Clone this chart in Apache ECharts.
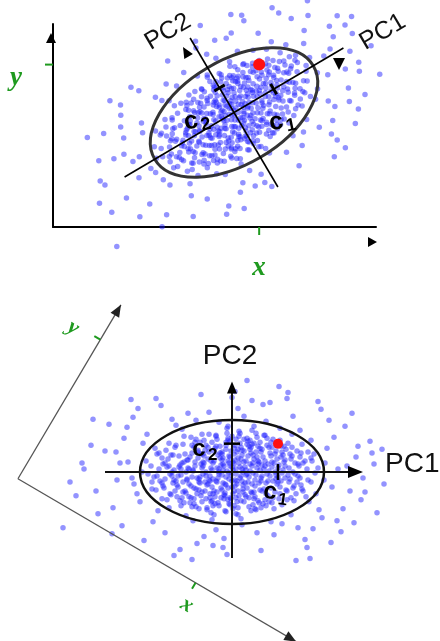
<!DOCTYPE html>
<html><head><meta charset="utf-8">
<script src="https://cdn.jsdelivr.net/npm/echarts@6/dist/echarts.min.js"></script>
<style>html,body{margin:0;padding:0;background:#fff}#c{width:440px;height:641px}</style>
</head><body><div id="c"></div>
<script>
// Principal-component scores of the sample cloud (PC1, PC2)
const scores = [
[0.3,1.2],[-2.1,0.4],[3.4,-1.1],[-0.8,-2.3],[1.7,2.6],[-4.2,1.5],[5.1,0.2],[-1.4,-0.6],[2.6,-2.9],[-3.3,-1.8],
[0.9,-0.4],[-5.6,-0.9],[4.3,1.8],[-0.2,3.1],[1.1,-1.7],[-2.7,2.2],[6.2,-1.4],[-1.9,-3.4],[3.0,0.7],[-6.3,0.6],
[-0.5,0.1],[2.2,1.3],[-3.8,-2.7],[4.8,-2.2],[0.6,-3.6],[-1.2,1.9],[7.1,0.9],[-4.9,2.8],[1.5,3.4],[-2.4,-1.2],
[3.7,2.5],[-0.9,-1.1],[5.6,-0.3],[-6.8,-1.6],[0.2,2.4],[2.9,-0.6],[-3.1,0.8],[1.3,0.5],[-5.2,-2.9],[4.0,-3.1],
[-1.6,3.6],[6.5,2.1],[-0.4,-2.8],[2.0,-2.1],[-2.9,-0.2],[0.7,0.9],[-7.3,0.3],[3.3,3.7],[-4.5,-0.7],[1.9,-3.9],
[-1.1,0.7],[4.6,0.4],[-3.6,3.3],[0.0,-1.5],[5.9,-2.6],[-2.2,-2.6],[2.4,2.0],[-5.9,1.7],[1.0,-0.9],[-0.6,2.7],
[3.9,-1.6],[-4.0,-3.5],[7.6,-0.8],[-1.8,1.1],[0.4,-4.2],[2.7,1.0],[-6.0,-0.4],[4.4,2.9],[-2.6,0.0],[1.6,1.6],
[-3.4,2.0],[5.3,1.2],[-0.1,-0.3],[2.1,-3.3],[-5.0,0.9],[0.8,3.9],[3.5,-0.2],[-1.5,-2.0],[6.7,0.6],[-4.7,-1.9],
[0.5,2.0],[-2.0,3.0],[4.1,-0.9],[-3.0,-3.0],[1.4,-2.5],[-6.6,2.2],[2.8,3.0],[-0.7,-3.9],[5.5,-1.9],[-1.3,0.3],
[3.1,1.5],[-4.4,1.2],[0.1,-2.2],[6.0,1.6],[-2.3,-0.8],[1.8,0.1],[-5.5,-1.3],[4.7,-2.7],[-0.3,1.6],[2.3,-1.4],
[-3.9,0.2],[7.9,1.4],[-1.0,-1.8],[2.5,3.5],[-6.1,-2.3],[0.9,1.3],[4.2,0.9],[-2.8,1.6],[1.2,-3.0],[-4.8,3.6],
[5.8,-0.7],[-0.8,0.6],[3.6,-2.4],[-3.5,-2.2],[0.3,-0.8],[-7.8,-0.5],[2.0,2.8],[-1.7,2.4],[6.4,-2.2],[-2.5,-3.8],
[1.6,-1.0],[-5.3,0.5],[4.9,1.5],[-0.4,3.4],[2.9,-3.6],[-3.7,1.0],[0.6,-1.9],[-1.1,-2.6],[5.2,2.6],[-6.4,1.3],
[3.2,0.3],[-2.0,-1.5],[1.0,2.2],[-4.3,-2.5],[7.0,-1.7],[-0.9,1.4],[2.4,-0.3],[-5.7,2.5],[4.5,-1.2],[0.0,0.5],
[-3.2,-0.5],[1.8,3.2],[-1.4,-3.1],[6.1,0.0],[-2.6,2.7],[3.8,1.9],[-7.0,-1.1],[0.4,-2.6],[2.6,0.8],[-4.1,-1.4],
[5.4,2.3],[-0.6,-1.3],[3.0,-1.9],[-1.9,0.9],[8.3,-0.1],[-3.8,2.5],[1.1,0.0],[-5.1,-3.4],[4.1,3.3],[-0.2,-3.3],
[2.2,-2.7],[-2.4,1.3],[6.9,1.9],[-4.6,0.0],[0.8,2.9],[-1.6,-0.9],[3.4,-3.4],[-6.5,-2.8],[1.4,1.1],[-3.0,3.8],
[4.6,-0.5],[-0.3,-0.1],[2.1,1.7],[-5.8,0.2],[0.2,-3.4],[3.7,0.1],[-2.2,-2.2],[7.4,-2.5],[-1.2,2.6],[5.0,-3.3],
[-4.0,1.9],[1.7,-0.5],[-0.5,3.9],[2.8,2.4],[-6.9,0.8],[0.5,-1.2],[4.3,-2.0],[-3.3,-1.0],[1.2,2.1],[-1.8,-4.3],
[6.3,0.9],[-2.9,0.6],[3.5,2.7],[-0.7,-2.1],[-5.4,-0.4],[2.3,-3.7],[0.1,1.0],[-4.2,-3.1],[5.7,-1.0],[-1.5,3.3],
[1.3,-2.3],[-3.6,-1.7],[4.0,1.0],[-0.9,0.2],[2.7,-1.1],[-7.5,1.8],[0.7,3.6],[-2.1,-3.0],[6.6,-0.4],[-1.0,1.8],
[3.3,-2.8],[-4.9,-1.0],[1.9,2.5],[-0.1,-2.7],[5.1,1.7],[-2.7,-1.9],[0.4,0.3],[-6.2,-0.2],[4.4,-0.7],[-3.4,1.4],
[9.5,2.4],[-9.8,-1.2],[8.7,-3.8],[-8.9,2.9],[10.6,0.3],[-10.4,1.0],[1.2,5.6],[-1.6,-5.8],[3.4,5.1],[-3.9,-4.9],
[11.8,-1.9],[-11.5,-0.8],[6.8,4.2],[-7.4,-3.9],[2.5,-6.1],[-2.3,6.0],[9.0,-4.6],[-8.5,3.8],[12.4,1.5],[-12.7,2.1],
[5.0,-5.2],[-5.6,4.7],[0.6,6.4],[-0.8,-6.7],[13.1,-0.6],[-13.6,-1.9],[7.9,3.2],[-9.2,-3.0],[4.2,-6.3],[-4.4,5.9],
[10.2,3.5],[-10.8,3.4],[8.1,-5.7],[-7.9,-5.0],[2.0,7.2],[-1.9,-7.4],[14.2,0.8],[-14.8,0.3],[6.1,5.6],[-6.7,-6.1],
[11.1,-3.7],[-11.9,-3.6],[3.8,7.0],[-3.5,-7.2],[9.7,5.2],[-9.9,5.5],[12.9,-2.8],[-15.6,-2.4],[7.3,-6.8],[-7.1,6.7],
[0.3,8.1],[-0.5,-8.3],[5.5,7.4],[-5.2,-7.8],[13.8,3.1],[-12.3,4.8],[10.9,-6.0],[-11.0,-5.4],[8.6,7.1],[-8.8,-6.9],
[15.2,-1.2],[-16.9,-5.6],[4.7,8.6],[-4.0,-8.8],[1.5,9.2],[7.8,-8.7],[-10.1,7.3],[12.0,5.9],[-13.4,-4.2],[14.5,-4.1],
[9.3,0.9],[-9.0,0.0],[8.2,1.8],[-8.0,-1.7],[10.0,-1.5],[-10.0,-0.6],[7.7,-3.0],[-7.7,2.4],[3.9,-5.0],[-3.6,5.2],
[1.0,-5.3],[-1.3,5.0],[6.0,3.8],[-6.3,-3.6],[2.2,4.6],[-2.0,-4.8],[8.4,-2.2],[-8.6,1.1],[5.9,-4.3],[-5.0,4.3],
[11.5,0.6],[-11.2,0.9],[0.9,-4.7],[-0.4,4.6],[4.8,4.4],[-4.6,-4.4],[9.2,-0.8],[-9.5,-2.2],[7.0,2.8],[-7.0,-2.7],
[6.6,-5.6],[-6.0,5.3],[12.6,2.6],[-14.1,2.7],[3.1,6.8],[-2.8,-6.5],[10.5,-4.9],[-10.5,4.5],[0.0,7.5],[-0.9,-7.6],
[13.3,-2.0],[-15.0,0.9],[11.3,4.6],[-12.0,-6.2],[5.6,8.0],[-5.8,-8.4],[8.9,6.3],[-9.4,6.4],[14.0,1.9],[-16.2,-1.0],
[2.9,-7.9],[-3.1,7.8],[7.5,-7.6],[-7.6,7.4],[9.9,-7.1],[6.4,-8.9],[-11.6,2.0],[12.2,-5.1],[-13.9,5.3],[15.0,2.3],
[0.8,0.5],[-0.6,-0.5],[1.5,-0.2],[-1.3,0.0],[0.2,1.8],[-0.4,-1.6],[2.0,0.6],[-2.2,-0.4],[1.1,-1.3],[-1.0,1.2],
[3.0,-0.4],[-3.0,0.4],[0.6,2.3],[-0.7,-2.4],[2.5,1.5],[-2.5,-1.3],[4.0,0.5],[-4.0,-0.5],[1.9,-2.0],[-1.8,2.1],
[3.3,1.1],[-3.2,-1.1],[0.0,-0.9],[-0.3,0.9],[4.9,-0.9],[-4.8,1.0],[2.2,2.9],[-2.0,-2.9],[5.3,0.6],[-5.1,-0.3],
[0.4,-0.2],[-0.2,0.6],[1.2,1.0],[-1.5,-1.0],[2.8,0.2],[-2.9,1.0],[0.9,-2.9],[-0.6,3.0],[3.6,-0.9],[-3.7,0.6],
[1.5,2.8],[-1.7,-2.5],[4.5,1.3],[-4.3,-1.2],[2.3,-2.5],[-2.4,2.5],[5.7,0.4],[-5.8,-0.8],[0.2,-1.9],[-0.1,2.1],
[3.9,3.0],[-3.8,-3.2],[6.8,-0.6],[-6.7,0.9],[1.7,-3.5],[-1.6,3.7],[4.8,-1.5],[-4.7,1.8],[2.6,1.1],[-2.7,-1.0],
[0.7,4.1],[-0.6,-4.0],[5.6,2.9],[-5.5,-2.5],[3.1,-3.2],[-3.2,3.0],[7.3,1.1],[-7.2,-0.9],[1.8,0.8],[-1.9,-0.7],
[4.1,-2.6],[-4.0,2.7],[0.1,0.2],[2.4,3.9],[-2.5,-3.6],[6.2,-2.9],[-6.3,2.9],[1.3,-1.1],[-1.2,1.4],[3.6,0.8],
[-3.5,-0.6],[5.0,-0.1],[-5.1,0.3],[0.5,-3.0],[-0.4,3.2],[2.9,2.0],[-3.0,-2.0],[7.9,-1.0],[-8.1,0.6],[1.0,1.7],
[-1.1,-1.6],[4.4,2.1],[-4.6,-2.1],[2.0,-1.2],[-2.1,1.1],[6.0,2.5],[-6.2,-2.2],[0.6,1.4],[-0.7,-1.2],[3.2,-1.7],
[-3.1,1.8],[5.4,-1.8],[-5.3,1.6],[1.6,3.1],[-1.7,-3.2],[8.6,0.4],[-8.4,-0.2],[2.1,-0.1],[-2.0,0.2],[4.7,0.7],
[-4.5,-0.8],[0.3,2.7],[-0.2,-2.6],[3.5,3.4],[-3.6,-3.5],[6.9,-1.3],[-7.0,1.4],[1.1,-2.0],[-1.0,2.0],[2.7,-3.1],
[-2.8,3.2],[5.2,1.0],[-5.4,-1.5],[0.8,-0.6],[-0.9,0.8],[4.2,-3.7],[-4.1,3.5],[7.6,2.0],[-7.6,-1.8],[1.4,0.2],
[-1.3,-0.2],[3.0,2.3],[-3.1,-2.4],[5.9,1.3],[-5.9,-1.1],[0.0,3.6],[0.1,-3.7],[2.2,-2.0],[-2.3,2.0],[4.3,0.0],
[-4.4,0.4],[6.5,-1.0],[-6.5,0.5],[1.9,1.9],[-1.8,-1.9],[3.8,-0.4],[-3.9,0.1],[0.5,-0.9],[-0.4,1.1],[2.5,0.4],
[-2.6,-0.4],[5.0,2.0],[-4.9,-2.0],[1.2,3.3],[-1.3,-3.4],[3.4,-2.2],[-3.4,2.2],[6.3,-0.2],[-6.0,0.0],[0.9,2.5],
[-0.8,-2.7],[2.6,2.6],[-2.6,-2.7],[4.6,-1.0],[-4.5,1.2],[7.1,-1.9],[-7.3,1.9],[1.5,-1.6],[-1.4,1.7],[3.9,1.6],
[-3.8,-1.6],[0.2,0.8],[-0.3,-0.7],[5.5,-2.8],[-5.6,2.7],[2.0,4.2],[-2.1,-4.1],[8.0,1.1],[-8.0,-1.0],[1.7,-2.6],
[-1.6,2.6],[4.0,2.5],[-4.1,-2.6],[2.9,-0.9],[-2.8,0.9],[6.6,0.8],[-6.7,-0.7],[0.6,-4.3],[-0.5,4.4],[3.3,0.6],
[-3.3,-0.7],[1.0,0.3],[-1.0,-0.3],[5.8,1.8],[-5.7,-1.9],[2.4,-3.8],[-2.3,3.8],[4.8,3.2],[-4.8,-3.1],[0.3,-1.4],
[-0.2,1.5],[3.7,-3.0],[-3.7,3.0],[6.1,-1.6],[-6.1,1.7],[1.8,2.3],[-1.9,-2.2],[4.4,-0.3],[-4.3,0.3],[2.1,0.9],
[-2.2,-0.9],[7.5,0.3],[-7.5,-0.4],[0.7,-2.4],[-0.6,2.3],[3.2,3.7],[-3.3,-3.7],[5.3,-0.6],[-5.2,0.7],[1.4,-0.3],
[-1.5,0.4],[2.8,-1.8],[-2.9,1.8],[4.9,2.6],[-5.0,-2.6],[0.4,3.3],[-0.3,-3.2],[6.8,1.5],[-6.9,-1.4],[2.3,-0.8]
];
const highlight = [4.6, 2.85];        // highlighted sample, PC scores (c1, c2)
const cloudMean = [18.1, 11.45];      // mean of the cloud in (x, y)
const angleDeg = 30.5;                // angle of PC1 to the x axis
const ellipseSemi = [9.2, 5.2];       // ellipse semi-axes along PC1, PC2
const pcAxisHalf = [12.7, 8.65];      // half-lengths of the drawn PC axes
const xyAxisMax = [32.3, 20.3];       // extent of the x and y axes
const pcNames = ['PC1', 'PC2'];
const varNames = ['x', 'y'];
const subNames = ['1', '2'];

const th = angleDeg * Math.PI / 180, cs = Math.cos(th), sn = Math.sin(th);
function toXY(p) { return [cloudMean[0] + p[0] * cs - p[1] * sn, cloudMean[1] + p[0] * sn + p[1] * cs]; }
function toPC(q) { const dx = q[0] - cloudMean[0], dy = q[1] - cloudMean[1]; return [dx * cs + dy * sn, -dx * sn + dy * cs]; }

const BLUE = 'rgba(30,30,255,0.6)', GREEN = '#1f9a1f', RED = '#ff1010';
const SANS = '"Liberation Sans", Arial, sans-serif', SERIF = '"Liberation Serif", "Times New Roman", serif';

function seg(a, b, color, w) { return { type: 'line', shape: { x1: a[0], y1: a[1], x2: b[0], y2: b[1] }, style: { stroke: color, lineWidth: w } }; }
function unit(a, b) { const dx = b[0] - a[0], dy = b[1] - a[1], l = Math.hypot(dx, dy); return [dx / l, dy / l]; }
function tri(tip, dir, L, W, color) {
  const bx = tip[0] - dir[0] * L, by = tip[1] - dir[1] * L, nx = -dir[1], ny = dir[0];
  return { type: 'polygon', shape: { points: [tip, [bx + nx * W, by + ny * W], [bx - nx * W, by - ny * W]] }, style: { fill: color } };
}
function txt(p, s, font, color, rot, align) {
  return { type: 'text', x: p[0], y: p[1], rotation: rot || 0, style: { text: s, font: font, fill: color, textAlign: align || 'center', textVerticalAlign: 'middle' } };
}
function cLabel(p, digit, rot, size) {
  return { type: 'group', x: p[0], y: p[1], rotation: rot || 0, children: [
    { type: 'text', x: -6, y: 0, style: { text: 'c', font: 'bold ' + size + 'px ' + SANS, fill: '#000', textAlign: 'center', textVerticalAlign: 'middle' } },
    { type: 'text', x: 3, y: 6, style: { text: digit, font: 'bold ' + Math.round(size * 0.72) + 'px ' + SANS, fill: '#000', textAlign: 'left', textVerticalAlign: 'middle' } }
  ] };
}

function renderTop(params, api) {
  const P = c => api.coord(toXY(c));
  const Q = q => api.coord(q);
  const k = api.size([1, 1])[0];
  const ch = [];
  const ctr = P([0, 0]);
  ch.push({ type: 'ellipse', x: ctr[0], y: ctr[1], rotation: th, shape: { cx: 0, cy: 0, rx: ellipseSemi[0] * k, ry: ellipseSemi[1] * k }, style: { fill: 'none', stroke: '#333', lineWidth: 3 } });
  ch.push(seg(P([-pcAxisHalf[0], 0]), P([pcAxisHalf[0], 0]), '#000', 1.6));
  ch.push(seg(P([0, -pcAxisHalf[1]]), P([0, pcAxisHalf[1]]), '#000', 1.6));
  ch.push(seg(P([highlight[0], -0.6]), P([highlight[0], 0.6]), '#000', 3));
  ch.push(seg(P([-0.6, highlight[1]]), P([0.6, highlight[1]]), '#000', 3));
  ch.push(tri(P([11.2, -1.67]), [0, 1], 12, 6, '#000'));
  ch.push(tri(P([-1.07, 8.23]), unit(P([0, 0]), P([0, 1])), 11, 5, '#000'));
  ch.push(tri(Q([-0.2, 19.4]), [0, -1], 10, 5, '#000'));
  ch.push(tri(Q([32.4, -1.5]), [1, 0], 9, 5, '#000'));
  const h = toXY(highlight);
  const a = Q([h[0], 0]), b = Q([0, h[1]]);
  ch.push(seg(a, [a[0], a[1] + 8], GREEN, 2));
  ch.push(seg(b, [b[0] - 8, b[1]], GREEN, 2));
  ch.push(txt(Q([20.6, -4.1]), varNames[0], 'italic bold 27px ' + SERIF, GREEN));
  ch.push(txt(Q([-3.7, 14.9]), varNames[1], 'italic bold 27px ' + SERIF, GREEN));
  const r = P(highlight);
  ch.push({ type: 'circle', shape: { cx: r[0], cy: r[1], r: 6 }, style: { fill: RED } });
  ch.push(txt(P([16.9, -0.62]), pcNames[0], '25px ' + SANS, '#111', th));
  ch.push(txt(P([-1.6, 10.3]), pcNames[1], '25px ' + SANS, '#111', th));
  ch.push(cLabel(P([3.7, -3.2]), subNames[0], 0.2, 25));
  ch.push(cLabel(P([-3.6, 1.2]), subNames[1], 0.2, 25));
  return { type: 'group', children: ch };
}

function renderBottom(params, api) {
  const P = c => api.coord(c);
  const k = api.size([1, 1])[0];
  const ch = [];
  const ctr = P([0, 0]);
  ch.push({ type: 'ellipse', shape: { cx: ctr[0], cy: ctr[1], rx: ellipseSemi[0] * k, ry: ellipseSemi[1] * k }, style: { fill: 'none', stroke: '#111', lineWidth: 2.5 } });
  ch.push(seg(P([-pcAxisHalf[0], 0]), P([pcAxisHalf[0], 0]), '#111', 2));
  ch.push(seg(P([0, -pcAxisHalf[1]]), P([0, pcAxisHalf[1]]), '#111', 2));
  ch.push(seg(P([highlight[0], -0.8]), P([highlight[0], 0.8]), '#000', 2.5));
  ch.push(seg(P([-0.8, highlight[1]]), P([0.8, highlight[1]]), '#000', 2.5));
  ch.push(tri(P([13.1, 0]), [1, 0], 15, 6, '#000'));
  ch.push(tri(P([0, 9.1]), [0, -1], 12, 5, '#000'));
  // original x / y axes, seen in the PC frame
  const corner = P(toPC([0, 0])), xEnd = P(toPC([xyAxisMax[0], 0])), yEnd = P(toPC([0, xyAxisMax[1]]));
  ch.push(seg(corner, xEnd, '#555', 1.3));
  ch.push(seg(corner, yEnd, '#555', 1.3));
  ch.push(tri(xEnd, unit(corner, xEnd), 12, 5, '#222'));
  ch.push(tri(yEnd, unit(corner, yEnd), 12, 5, '#222'));
  const h = toXY(highlight);
  ch.push(seg(P(toPC([h[0], 0])), P(toPC([h[0], -0.7])), GREEN, 2));
  ch.push(seg(P(toPC([0, h[1]])), P(toPC([-0.7, h[1]])), GREEN, 2));
  ch.push(txt(P([-4.5, -13.4]), varNames[0], 'italic bold 22px ' + SERIF, GREEN, -th));
  ch.push(txt(P([-15.9, 14.5]), varNames[1], 'italic bold 22px ' + SERIF, GREEN, -th));
  const r = P(highlight);
  ch.push({ type: 'circle', shape: { cx: r[0], cy: r[1], r: 5 }, style: { fill: RED } });
  ch.push(txt(P([15.3, 0.8]), pcNames[0], '28px ' + SANS, '#111', 0, 'left'));
  ch.push(txt(P([-0.2, 11.6]), pcNames[1], '28px ' + SANS, '#111', 0));
  ch.push(cLabel(P([4.4, -2.1]), subNames[0], -0.15, 24));
  ch.push(cLabel(P([-2.7, 2.3]), subNames[1], 0, 24));
  return { type: 'group', children: ch };
}

const hiddenAxis = { show: false };
const chart = echarts.init(document.getElementById('c'), null, { renderer: 'canvas' });
chart.setOption({
  animation: false,
  backgroundColor: '#fff',
  grid: [
    { left: 53, top: 24, width: 323, height: 203 },
    { left: 12, top: 303, width: 420, height: 340 }
  ],
  xAxis: [
    { gridIndex: 0, type: 'value', min: 0, max: xyAxisMax[0], axisLine: { show: true, onZero: false, lineStyle: { color: '#000', width: 2 } }, axisTick: hiddenAxis, axisLabel: hiddenAxis, splitLine: hiddenAxis },
    { gridIndex: 1, type: 'value', min: -22, max: 20, show: false }
  ],
  yAxis: [
    { gridIndex: 0, type: 'value', min: 0, max: xyAxisMax[1], axisLine: { show: true, onZero: false, lineStyle: { color: '#000', width: 2 } }, axisTick: hiddenAxis, axisLabel: hiddenAxis, splitLine: hiddenAxis },
    { gridIndex: 1, type: 'value', min: -17, max: 17, show: false }
  ],
  series: [
    { type: 'scatter', xAxisIndex: 0, yAxisIndex: 0, data: scores.map(toXY), symbolSize: 5.5, itemStyle: { color: BLUE }, clip: false, silent: true, z: 1 },
    { type: 'scatter', xAxisIndex: 1, yAxisIndex: 1, data: scores, symbolSize: 5.5, itemStyle: { color: BLUE }, clip: false, silent: true, z: 1 },
    { type: 'custom', xAxisIndex: 0, yAxisIndex: 0, data: [cloudMean], renderItem: renderTop, clip: false, silent: true, z: 5 },
    { type: 'custom', xAxisIndex: 1, yAxisIndex: 1, data: [[0, 0]], renderItem: renderBottom, clip: false, silent: true, z: 5 }
  ]
});
</script></body></html>
